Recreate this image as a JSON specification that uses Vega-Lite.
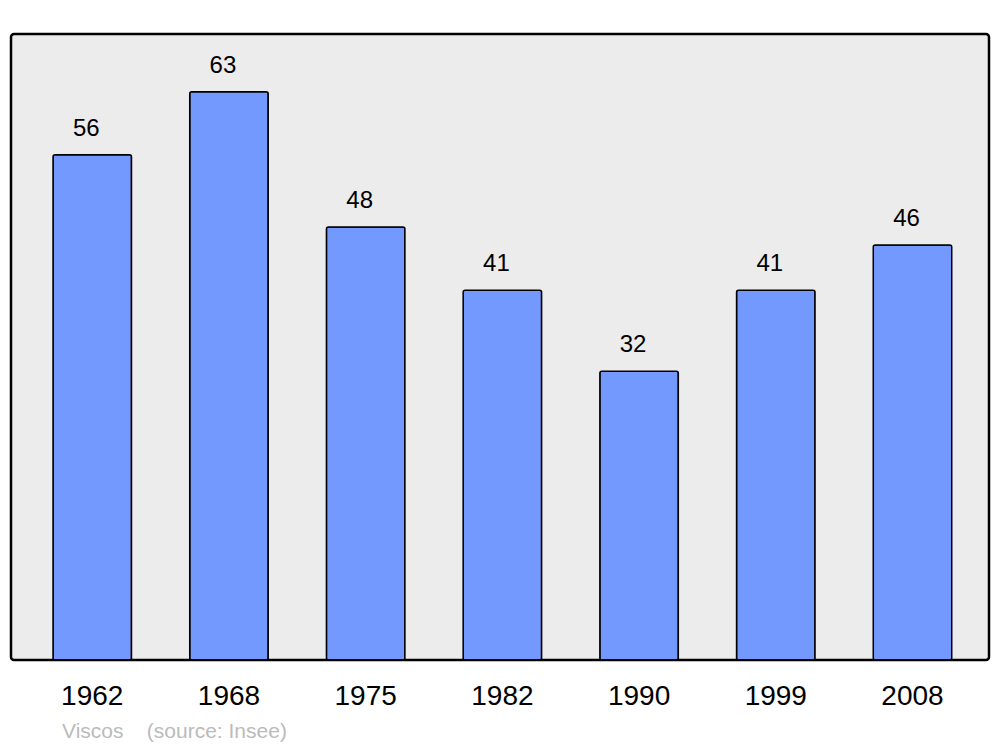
{
  "$schema": "https://vega.github.io/schema/vega-lite/v6.json",
  "width": 978,
  "height": 626,
  "autosize": "none",
  "padding": {"left": 11, "top": 34, "right": 11, "bottom": 87},
  "background": "white",
  "config": {
    "view": {"fill": "#ececec", "stroke": "black", "strokeWidth": 2.5, "cornerRadius": 3},
    "font": "Liberation Sans"
  },
  "data": {
    "values": [
      {"year": "1962", "pop": 56},
      {"year": "1968", "pop": 63},
      {"year": "1975", "pop": 48},
      {"year": "1982", "pop": 41},
      {"year": "1990", "pop": 32},
      {"year": "1999", "pop": 41},
      {"year": "2008", "pop": 46}
    ]
  },
  "encoding": {
    "x": {
      "field": "year",
      "type": "ordinal",
      "scale": {"paddingInner": 0.426, "paddingOuter": 0.29, "align": 0.53},
      "axis": {
        "title": null,
        "domain": false,
        "ticks": false,
        "grid": false,
        "labelAngle": 0,
        "labelFontSize": 28,
        "labelColor": "black",
        "labelPadding": 22
      }
    },
    "y": {
      "field": "pop",
      "type": "quantitative",
      "scale": {"domain": [0, 69.4], "nice": false, "zero": true},
      "axis": null
    }
  },
  "layer": [
    {
      "mark": {"type": "bar", "fill": "#7399ff", "stroke": "black", "strokeWidth": 1.5, "cornerRadius": 2}
    },
    {
      "mark": {"type": "text", "baseline": "alphabetic", "dy": -19, "dx": -6, "fontSize": 24, "color": "black"},
      "encoding": {"text": {"field": "pop", "type": "quantitative"}}
    }
  ],
  "title": {
    "text": "Viscos\u00a0\u00a0\u00a0 (source: Insee)",
    "orient": "bottom",
    "anchor": "start",
    "dx": 51,
    "offset": 11,
    "fontSize": 21,
    "fontWeight": "normal",
    "color": "#bbbbbb"
  }
}
